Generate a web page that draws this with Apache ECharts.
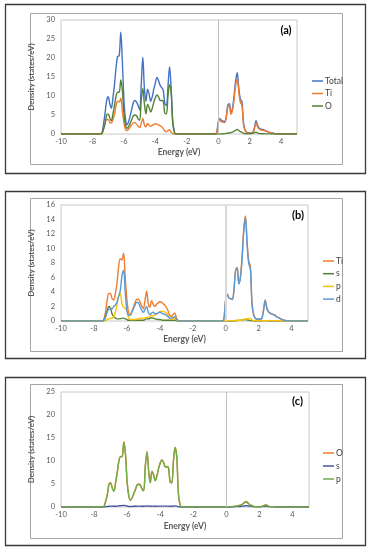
<!DOCTYPE html>
<html>
<head>
<meta charset="utf-8">
<script src="https://cdn.jsdelivr.net/npm/echarts@6/dist/echarts.min.js"></script>
<style>
html,body{margin:0;padding:0;background:#fff;}
#chart{width:374px;height:550px;}
</style>
</head>
<body>
<div id="chart"></div>
<script>
// Energy grids (eV)
const energyVB = [-7.6,-7.5,-7.4,-7.3,-7.2,-7.1,-7.0,-6.9,-6.8,-6.7,-6.6,-6.5,-6.4,-6.3,-6.2,-6.1,-6.0,-5.9,-5.8,-5.7,-5.6,-5.5,-5.4,-5.3,-5.2,-5.1,-5.0,-4.9,-4.8,-4.7,-4.6,-4.5,-4.4,-4.3,-4.2,-4.1,-4.0,-3.9,-3.8,-3.7,-3.6,-3.5,-3.4,-3.3,-3.2,-3.1,-3.0,-2.9,-2.8,-2.7];
const energyCB = [-0.2,-0.1,0.0,0.1,0.2,0.3,0.4,0.5,0.6,0.7,0.8,0.9,1.0,1.1,1.2,1.3,1.4,1.5,1.6,1.7,1.8,1.9,2.0,2.1,2.2,2.3,2.4,2.5,2.6,2.7,2.8,2.9,3.0,3.1,3.2,3.3,3.4,3.5,3.6,3.7,3.8,3.9,4.0];
const energyEnds = [-10, 5];

// (a) Total DOS
const totalVB = [0,0,0.3,2.5,5.5,8.8,9.8,8.0,6.8,9.5,13,17.5,20.4,20.6,26.8,19,9,4,2.4,3.3,4.8,6.5,8.3,8.8,8.4,7.5,6.3,13,20.2,12,8.6,11.8,10.5,8.6,9.8,11.8,13.5,14.9,14,12.8,12.2,11.5,8,7.5,12.5,17.7,12,3.5,0.8,0];
const totalCB = [0,0.5,3.2,4.0,3.6,3.4,3.3,4.5,7.5,8.0,5.6,6.8,10,14,16.1,12,9.2,8.5,3,1.0,0.5,0.3,0.3,0.3,0.5,1.8,3.5,2.2,1.5,1.3,1.2,1.1,0.9,0.7,0.5,0.4,0.3,0.2,0.1,0.05,0,0,0];
// Ti total
const tiVB = [0,0,0.2,1.2,2.8,3.8,3.8,3.1,2.9,3.8,5.2,7.5,8.6,8.4,9.4,6,3,1.2,0.9,1.3,1.9,2.5,3.0,3.0,2.6,2.1,1.7,2.8,4.1,2.4,1.9,2.8,2.3,2.0,2.3,2.5,2.7,2.6,2.4,2.2,1.9,1.4,0.8,0.6,0.9,1.1,0.5,0.1,0,0];
const tiCB = [0,0.4,3.0,3.7,3.2,3.1,3.0,4.2,7.0,7.4,5.2,6.2,9,12.8,14.5,11,8.3,7.6,2.5,0.9,0.4,0.3,0.3,0.3,0.4,1.5,2.9,1.8,1.3,1.1,1.0,0.9,0.8,0.6,0.5,0.35,0.25,0.15,0.1,0.05,0.03,0.02,0];
// O total
const oVB = [0,0,0.1,1.3,2.7,5.0,5.3,4.2,3.5,5.3,7.5,10,11,11,14.2,11.5,5.5,2.4,1.5,2.0,2.9,3.8,4.8,5.0,4.8,4.0,3.6,9,12,8,5.3,7.8,7,5.8,6.8,8.4,9.6,10.3,9.8,8.8,8.8,8.6,5.5,5.3,10,13,11,3,0.5,0];
const oCB = [0,0,0,0,0,0.05,0.1,0.15,0.2,0.3,0.35,0.5,0.7,1.0,1.2,0.9,0.6,0.4,0.2,0.1,0.05,0.05,0.05,0.1,0.2,0.35,0.5,0.25,0.1,0.08,0.06,0.05,0.04,0.03,0.02,0.02,0.01,0.01,0,0,0,0,0];
// (b) Ti partials
const tiSVB = [0,0,0.1,0.6,1.4,2.0,1.8,1.0,0.6,0.4,0.3,0.3,0.3,0.4,0.4,0.3,0.2,0.1,0.1,0.1,0.1,0.1,0.1,0.1,0.1,0.1,0.1,0.2,0.3,0.3,0.35,0.45,0.4,0.3,0.25,0.2,0.2,0.15,0.1,0.1,0.1,0.1,0.1,0.1,0.1,0.1,0.05,0,0,0];
const tiSCB = [0,0,0,0,0,0,0,0,0.02,0.05,0.08,0.1,0.15,0.2,0.2,0.15,0.1,0.05,0.02,0,0,0,0,0,0,0.02,0.05,0.02,0,0,0,0,0,0,0,0,0,0,0,0,0,0,0];
const tiPVB = [0,0,0,0.1,0.2,0.3,0.35,0.4,0.6,1.2,2.2,3.4,3.8,2.4,1.9,1.7,1.5,0.5,0.2,0.2,0.2,0.2,0.3,0.3,0.35,0.4,0.4,0.45,0.5,0.5,0.6,0.8,0.7,0.8,1.0,1.1,1.3,1.35,1.3,1.25,1.1,0.8,0.4,0.25,0.3,0.35,0.2,0.05,0,0];
const tiPCB = [0,0,0.05,0.05,0.05,0.05,0.05,0.05,0.08,0.1,0.1,0.1,0.15,0.2,0.25,0.3,0.35,0.35,0.15,0.05,0.05,0.05,0.05,0.05,0.05,0.05,0.05,0.05,0.05,0.05,0.05,0.05,0.05,0.05,0.05,0.03,0.03,0.02,0.02,0.01,0,0,0];
const tiDVB = [0,0,0.1,0.5,1.2,1.6,1.7,1.7,2.0,2.2,2.6,3.4,4.2,6.2,7.0,4.0,1.5,0.8,0.8,1.2,1.7,2.2,2.6,2.5,2.0,1.5,1.2,1.6,2.0,1.2,0.9,1.1,1.2,1.0,1.0,1.1,1.2,1.1,1.0,0.9,0.8,0.6,0.4,0.4,0.5,0.6,0.3,0.05,0,0];
const tiDCB = [0,0.4,2.95,3.65,3.15,3.05,2.95,4.15,6.9,7.3,5.1,6.0,8.7,12.4,14.2,10.6,7.9,7.2,2.3,0.85,0.35,0.25,0.25,0.25,0.35,1.45,2.85,1.75,1.25,1.05,0.95,0.85,0.75,0.55,0.45,0.32,0.22,0.13,0.08,0.04,0.03,0.02,0];
// (c) O partials
const oSVB = [0,0,0,0.05,0.1,0.15,0.2,0.2,0.15,0.15,0.2,0.25,0.3,0.3,0.35,0.3,0.2,0.1,0.1,0.1,0.15,0.15,0.2,0.2,0.2,0.15,0.15,0.2,0.25,0.2,0.15,0.2,0.2,0.15,0.2,0.2,0.2,0.2,0.2,0.2,0.2,0.2,0.15,0.15,0.2,0.25,0.2,0.05,0,0];
const oSCB = [0,0,0,0,0,0,0.02,0.05,0.08,0.1,0.12,0.15,0.2,0.25,0.3,0.25,0.2,0.15,0.08,0.03,0.02,0.02,0.02,0.05,0.1,0.15,0.2,0.1,0.05,0.03,0.02,0.02,0.01,0.01,0,0,0,0,0,0,0,0,0];
const oPVB = [0,0,0.1,1.25,2.6,4.9,5.2,4.1,3.4,5.2,7.4,9.9,10.9,10.9,14.1,11.4,5.4,2.35,1.45,1.95,2.85,3.75,4.7,4.9,4.7,3.9,3.5,8.9,11.9,7.9,5.2,7.7,6.9,5.7,6.7,8.3,9.5,10.2,9.7,8.7,8.7,8.5,5.4,5.2,9.9,12.9,10.9,2.95,0.5,0];
const oPCB = [0,0,0,0,0,0.05,0.1,0.13,0.18,0.27,0.32,0.46,0.65,0.93,1.15,0.85,0.55,0.36,0.18,0.09,0.05,0.05,0.05,0.09,0.18,0.32,0.47,0.23,0.09,0.07,0.05,0.04,0.03,0.02,0.02,0.01,0.01,0.01,0,0,0,0,0];

const xTicks = {min: -10, max: 5, interval: 2};
const yMaxA = 30, yStepA = 5;
const yMaxB = 16, yStepB = 2;
const yMaxC = 25, yStepC = 5;

function build(vb, cb) {
  return [[energyEnds[0], 0]]
    .concat(energyVB.map((e, i) => [e, vb[i]]))
    .concat(energyCB.map((e, i) => [e, cb[i]]))
    .concat([[energyEnds[1], 0]]);
}

const FONT = 'Lato, "Open Sans", sans-serif';
const grids = [
  {left: 61, top: 20, width: 236, height: 114},
  {left: 61, top: 205, width: 247, height: 116},
  {left: 61, top: 392, width: 248, height: 115}
];
const yCfg = [[yMaxA, yStepA], [yMaxB, yStepB], [yMaxC, yStepC]];
const xNameGap = [14, 14, 15];

const chart = echarts.init(document.getElementById('chart'), null, {renderer: 'canvas'});

function line(name, color, gi, vb, cb, extra) {
  return Object.assign({
    name: name, type: 'line', xAxisIndex: gi, yAxisIndex: gi,
    data: build(vb, cb), showSymbol: false, symbol: 'none', smooth: 0.35,
    lineStyle: {color: color, width: 1.4}, itemStyle: {color: color},
    animation: false, z: 3
  }, extra || {});
}
function zeroLine(color, width) {
  return {silent: true, symbol: ['none', 'none'], label: {show: false},
    lineStyle: {color: color, width: width, type: 'solid'}, data: [{xAxis: 0}], animation: false};
}

const C = {blue: '#4472C4', orange: '#ED7D31', dgreen: '#548235', yellow: '#FFC000', lblue: '#5B9BD5', navy: '#44549C', green: '#70AD47'};

function legendItem(name, color) {
  return {name: name, itemStyle: {color: color}, lineStyle: {color: color}};
}
function legend(left, top, gap, items) {
  return {left: left, top: top, orient: 'vertical', itemGap: gap, icon: 'rect',
    itemWidth: 11, itemHeight: 1.5, selectedMode: false,
    textStyle: {fontSize: 8.5, color: '#404040', fontFamily: FONT, lineHeight: 10, padding: [0, 0, 0, -3]},
    data: items};
}

const frames = [];
const outer = [[5, 4, 360, 169], [5, 191, 360, 167], [5, 377, 360, 168]];
const inner = [[30, 13, 312, 151], [30, 198, 312, 153], [30, 384, 312, 154]];
outer.forEach(r => frames.push({type: 'rect', shape: {x: r[0] + 0.5, y: r[1] + 0.5, width: r[2], height: r[3]}, style: {fill: null, stroke: '#3a3a3a', lineWidth: 1.3}, silent: true, z: -10}));
inner.forEach(r => frames.push({type: 'rect', shape: {x: r[0] + 0.5, y: r[1] + 0.5, width: r[2], height: r[3]}, style: {fill: null, stroke: '#a6a6a6', lineWidth: 1}, silent: true, z: -10}));
const labels = [['(a)', 286, 30], ['(b)', 298, 215], ['(c)', 297.5, 401]];
labels.forEach(l => frames.push({type: 'text', x: l[1], y: l[2], style: {text: l[0], fontSize: 11, fontWeight: 'bold', fill: '#000', fontFamily: FONT, align: 'center', verticalAlign: 'middle'}, silent: true}));

const option = {
  backgroundColor: '#fff',
  animation: false,
  grid: grids.map(g => Object.assign({show: true, borderColor: '#c8c8c8', borderWidth: 1, containLabel: false}, g)),
  xAxis: grids.map((g, i) => ({
    type: 'value', gridIndex: i, min: xTicks.min, max: xTicks.max, interval: xTicks.interval,
    name: 'Energy (eV)', nameLocation: 'middle', nameGap: xNameGap[i],
    nameTextStyle: {fontSize: 8.5, fontWeight: 'bold', color: '#595959', fontFamily: FONT},
    axisLine: {show: false}, axisTick: {show: false}, splitLine: {show: false},
    axisLabel: {fontSize: 7.5, color: '#595959', fontFamily: FONT, margin: 4, showMaxLabel: false}
  })),
  yAxis: grids.map((g, i) => ({
    type: 'value', gridIndex: i, min: 0, max: yCfg[i][0], interval: yCfg[i][1],
    name: 'Density (states/eV)', nameLocation: 'middle', nameGap: 18, nameRotate: 90,
    nameTextStyle: {fontSize: 8, fontWeight: 'bold', color: '#595959', fontFamily: FONT},
    axisLine: {show: false}, axisTick: {show: false}, splitLine: {show: false},
    axisLabel: {fontSize: 7.5, color: '#595959', fontFamily: FONT, margin: 6}
  })),
  legend: [
    legend(307, 71, 2.5, [legendItem('Total', C.blue), legendItem('Ti', C.orange), legendItem('O', C.dgreen)]),
    legend(318, 251, 2.7, [legendItem('Ti', C.orange), legendItem('s', C.dgreen), legendItem('p', C.yellow), legendItem('d', C.lblue)]),
    legend(318, 443, 3, [legendItem('O', C.orange), legendItem('s', C.navy), legendItem('p', C.green)])
  ],
  graphic: {elements: frames},
  series: [
    line('Total', C.blue, 0, totalVB, totalCB, {markLine: zeroLine('#bfbfbf', 1), z: 2}),
    line('Ti', C.orange, 0, tiVB, tiCB),
    line('O', C.dgreen, 0, oVB, oCB),
    line('Ti', C.orange, 1, tiVB, tiCB, {markLine: zeroLine('#d9d9d9', 2), z: 2}),
    line('s', C.dgreen, 1, tiSVB, tiSCB),
    line('p', C.yellow, 1, tiPVB, tiPCB),
    line('d', C.lblue, 1, tiDVB, tiDCB),
    line('O', C.orange, 2, oVB, oCB, {markLine: zeroLine('#bfbfbf', 1), z: 2}),
    line('s', C.navy, 2, oSVB, oSCB),
    line('p', C.green, 2, oPVB, oPCB)
  ]
};
chart.setOption(option);
</script>
</body>
</html>
